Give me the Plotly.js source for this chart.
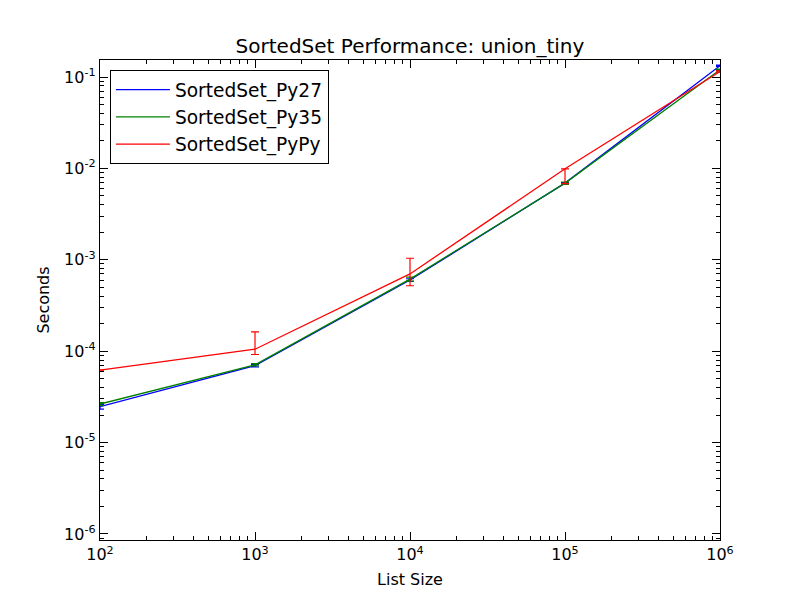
<!DOCTYPE html>
<html>
<head>
<meta charset="utf-8">
<script src="https://cdn.plot.ly/plotly-3.0.1.min.js"></script>
<style>html,body{margin:0;padding:0;background:#fff;}#chart{width:800px;height:600px;}</style>
</head>
<body>
<div id="chart"></div>
<script>
const sizes = [100, 1000, 10000, 100000, 1000000];
const py27 = [2.47e-5, 6.95e-5, 6.0e-4, 6.9e-3, 0.133];
const py27Up = [1.5e-6, 2e-6, 2e-5, 1e-4, 2e-3];
const py27Down = [1.5e-6, 2e-6, 2e-5, 1e-4, 2e-3];
const py35 = [2.64e-5, 7.1e-5, 6.15e-4, 6.9e-3, 0.12];
const py35Up = [1e-6, 2e-6, 3e-5, 2e-4, 2e-3];
const py35Down = [1e-6, 2e-6, 3e-5, 2e-4, 2e-3];
const pypy = [6.2e-5, 1.05e-4, 7.0e-4, 9.9e-3, 0.115];
const pypyUp = [0, 5.8e-5, 3.4e-4, 0, 2e-3];
const pypyDown = [0, 1.3e-5, 1.8e-4, 3.1e-3, 2e-3];
const names = ["SortedSet_Py27", "SortedSet_Py35", "SortedSet_PyPy"];
const colors = ["#0000ff", "#008000", "#ff0000"];
const yTickVals = [1e-6, 1e-5, 1e-4, 1e-3, 1e-2, 1e-1];
const yTickText = ["10<sup>-6</sup>", "10<sup>-5</sup>", "10<sup>-4</sup>", "10<sup>-3</sup>", "10<sup>-2</sup>", "10<sup>-1</sup>"];
const xTickVals = [1e2, 1e3, 1e4, 1e5, 1e6];
const xTickText = ["10<sup>2</sup>", "10<sup>3</sup>", "10<sup>4</sup>", "10<sup>5</sup>", "10<sup>6</sup>"];
const minorDigits = [2, 3, 4, 5, 6, 7, 8, 9];

function minorVals(decades) {
  const out = [];
  decades.forEach(d => minorDigits.forEach(m => out.push(m * d)));
  return out;
}

const series = [[py27, py27Up, py27Down], [py35, py35Up, py35Down], [pypy, pypyUp, pypyDown]];
const traces = series.map((s, i) => ({
  type: "scatter", mode: "lines", x: sizes, y: s[0], name: names[i],
  line: {color: colors[i], width: 1.3},
  error_y: {type: "data", symmetric: false, array: s[1], arrayminus: s[2], color: colors[i], thickness: 1.2, width: 4}
}));

const axisCommon = {
  type: "log", showgrid: false, zeroline: false, showline: true, mirror: "allticks",
  linecolor: "#000", linewidth: 1.2, ticks: "inside", ticklen: 8, tickcolor: "#000", tickwidth: 1,
  tickfont: {family: "DejaVu Sans", size: 16, color: "#000"}
};

const layout = {
  width: 800, height: 600,
  margin: {l: 100, r: 80, t: 60, b: 60},
  paper_bgcolor: "#fff", plot_bgcolor: "#fff",
  font: {family: "DejaVu Sans", color: "#000"},
  title: {text: "SortedSet Performance: union_tiny", font: {family: "DejaVu Sans", size: 20, color: "#000"}, x: 0.5, xanchor: "center", xref: "paper", yref: "container", y: 0.923, yanchor: "middle"},
  xaxis: Object.assign({}, axisCommon, {
    range: [2, 6], tickmode: "array", tickvals: xTickVals, ticktext: xTickText,
    minor: {tickmode: "array", tickvals: minorVals([1e2, 1e3, 1e4, 1e5]), ticks: "inside", ticklen: 4, tickcolor: "#000", tickwidth: 1, showgrid: false},
    title: {text: "List Size", font: {family: "DejaVu Sans", size: 16, color: "#000"}, standoff: 10}
  }),
  yaxis: Object.assign({}, axisCommon, {
    range: [-6.066, -0.814], tickmode: "array", tickvals: yTickVals, ticktext: yTickText,
    minor: {tickmode: "array", tickvals: minorVals([1e-7, 1e-6, 1e-5, 1e-4, 1e-3, 1e-2, 1e-1]), ticks: "inside", ticklen: 4, tickcolor: "#000", tickwidth: 1, showgrid: false},
    title: {text: "Seconds", font: {family: "DejaVu Sans", size: 16, color: "#000"}, standoff: 10}
  }),
  legend: {
    x: 0.016, y: 0.979, xanchor: "left", yanchor: "top",
    bgcolor: "#fff", bordercolor: "#000", borderwidth: 1,
    font: {family: "DejaVu Sans", size: 18.6, color: "#000"},
    itemwidth: 54
  },
  showlegend: true
};

Plotly.newPlot("chart", traces, layout, {displayModeBar: false, staticPlot: true});
</script>
</body>
</html>
